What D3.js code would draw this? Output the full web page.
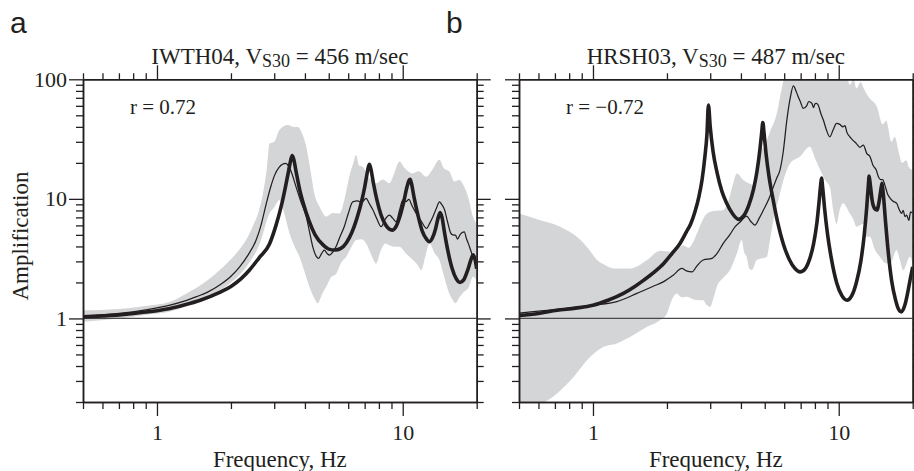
<!DOCTYPE html>
<html>
<head>
<meta charset="utf-8">
<script src="https://cdn.jsdelivr.net/npm/d3@7"></script>
<style>
  body { margin: 0; background: #fff; }
</style>
</head>
<body>
<svg id="chart" width="914" height="471"></svg>
<script>
// axis ranges and ticks
const freqDomain = [0.5, 20];
const ampDomain = [0.2, 100];
const freqMajor = [1, 10];
const freqMinor = [0.5, 0.6, 0.7, 0.8, 0.9, 2, 3, 4, 5, 6, 7, 8, 9, 20];
const ampMajor = [1, 10, 100];
const ampMinor = [0.2, 0.3, 0.4, 0.5, 0.6, 0.7, 0.8, 0.9, 2, 3, 4, 5, 6, 7, 8, 9, 20, 30, 40, 50, 60, 70, 80, 90];

// panel a: IWTH04  [frequency Hz, amplification]
const theoryA = [[0.5,1.03],[0.6,1.05],[0.7,1.07],[0.8,1.10],[0.9,1.13],[1.0,1.16],[1.13,1.21],[1.3,1.30],[1.5,1.42],[1.8,1.65],[2.0,1.85],[2.2,2.15],[2.38,2.54],[2.6,3.2],[2.87,4.2],[3.05,6.0],[3.2,8.6],[3.33,12.5],[3.43,17],[3.5,21],[3.55,23],[3.6,21.5],[3.68,17],[3.8,12.2],[3.95,9],[4.15,6.6],[4.4,5.0],[4.75,4.1],[5.0,3.8],[5.3,3.73],[5.6,3.85],[5.9,4.3],[6.2,5.2],[6.5,6.8],[6.8,9.5],[7.0,12.5],[7.15,16],[7.25,18.5],[7.32,19.5],[7.42,17.8],[7.6,13.5],[7.85,9.8],[8.15,7.4],[8.5,6.1],[8.8,5.6],[9.06,5.48],[9.4,5.9],[9.75,7.2],[10.1,9.5],[10.4,12.5],[10.6,14.2],[10.72,14.6],[10.85,13.5],[11.1,10.5],[11.5,7.5],[12.0,5.4],[12.5,4.6],[12.84,4.38],[13.2,4.7],[13.6,5.6],[13.95,7.0],[14.2,7.7],[14.45,7.0],[14.8,5.2],[15.3,3.6],[15.9,2.6],[16.5,2.15],[17.1,2.0],[17.7,2.1],[18.4,2.55],[19.0,3.15],[19.35,3.4],[19.7,3.1],[20,2.6]];
const observedA = [[0.5,1.04],[0.7,1.1],[0.9,1.18],[1.13,1.29],[1.3,1.4],[1.45,1.52],[1.6,1.65],[1.8,1.9],[2.0,2.25],[2.17,2.7],[2.35,3.4],[2.53,4.5],[2.65,6.0],[2.78,9.0],[2.9,12.5],[3.0,15.5],[3.15,18.5],[3.33,19.8],[3.45,18.5],[3.55,16],[3.68,12.6],[3.85,9.5],[4.05,7.1],[4.2,5.0],[4.3,4.0],[4.45,3.3],[4.55,3.18],[4.68,3.5],[4.8,3.73],[4.92,3.5],[5.03,3.39],[5.2,3.6],[5.35,3.98],[5.55,4.8],[5.78,5.85],[6.0,7.5],[6.26,9.45],[6.55,9.6],[6.8,9.3],[7.1,10.1],[7.3,9.2],[7.56,8.1],[7.85,6.8],[8.17,5.85],[8.5,6.8],[8.83,7.3],[9.1,6.9],[9.4,6.43],[9.7,8.0],[10.0,9.77],[10.3,9.5],[10.6,9.9],[10.9,8.8],[11.35,7.55],[11.9,6.5],[12.5,5.66],[12.9,6.3],[13.27,7.1],[13.7,8.3],[14.1,9.45],[14.4,9.0],[14.8,8.1],[15.2,6.5],[15.7,5.15],[16.0,5.0],[16.4,4.97],[16.7,4.6],[17.2,5.1],[17.8,5.3],[18.2,4.6],[18.6,4.1],[19.0,3.6],[19.3,3.28],[20,3.08]];
const bandHighA = [[0.5,1.17],[0.7,1.2],[0.9,1.27],[1.13,1.38],[1.32,1.62],[1.54,1.96],[1.8,2.54],[2.1,3.5],[2.3,4.5],[2.45,5.85],[2.6,8],[2.7,11.1],[2.8,18],[2.87,29],[3.0,30],[3.15,37.6],[3.4,41.4],[3.6,40],[3.74,40],[3.9,35],[4.05,27.3],[4.2,18],[4.37,11.1],[4.6,8.5],[4.88,7.1],[5.2,7.6],[5.53,7.55],[5.8,10],[6.06,15.3],[6.3,20],[6.46,23.3],[6.65,19],[6.87,18.6],[7.3,15],[7.8,13.5],[8.3,14.5],[8.83,13.5],[9.2,16],[9.7,20.5],[10.2,18],[10.97,16.3],[11.6,17],[12.45,15.3],[13.2,17.5],[14.1,21.2],[14.7,18],[15.5,16.9],[16.2,14],[17.0,14.4],[17.8,12.6],[18.6,9.8],[19.3,7.1],[20,6.2]];
const bandLowA = [[0.5,0.94],[0.7,1.0],[0.9,1.07],[1.13,1.14],[1.54,1.47],[1.98,1.96],[2.31,2.7],[2.62,4.24],[2.87,7.55],[3.0,8.5],[3.15,9.77],[3.3,7.5],[3.46,5.15],[3.65,3.9],[3.8,3.28],[4.0,2.4],[4.17,1.84],[4.35,1.5],[4.51,1.34],[4.7,1.6],[4.88,1.84],[5.1,2.2],[5.37,2.38],[5.6,2.9],[5.89,3.28],[6.2,4.0],[6.46,4.52],[6.8,4.6],[7.1,4.24],[7.45,3.4],[7.8,2.88],[8.1,3.6],[8.5,4.24],[9.1,4.0],[9.7,3.98],[10.3,3.5],[11.0,3.08],[11.5,2.8],[11.9,2.54],[12.4,3.4],[12.85,4.24],[13.5,3.5],[14.1,3.08],[14.6,2.4],[15.0,1.96],[15.5,1.6],[16.0,1.42],[16.4,1.34],[17.0,1.5],[17.5,1.62],[18.6,1.84],[19.3,2.23],[20,2.09]];

// panel b: HRSH03
const theoryB = [[0.5,1.06],[0.6,1.1],[0.714,1.17],[0.85,1.22],[1.0,1.29],[1.15,1.42],[1.33,1.62],[1.48,1.85],[1.61,2.09],[1.78,2.45],[1.94,2.88],[2.1,3.5],[2.26,4.24],[2.4,5.3],[2.5,6.2],[2.6,7.8],[2.7,10.5],[2.78,14.5],[2.85,22],[2.91,35],[2.95,61],[3.0,40],[3.08,25],[3.2,16.5],[3.35,11.5],[3.5,9.2],[3.7,7.5],[3.91,6.74],[4.1,7.2],[4.3,8.8],[4.5,12],[4.65,17],[4.78,26],[4.86,36],[4.91,43.4],[4.97,35],[5.06,24],[5.2,15.5],[5.4,10],[5.65,6.3],[5.95,4.2],[6.3,3.1],[6.65,2.6],[6.96,2.45],[7.3,2.6],[7.6,3.1],[7.9,4.2],[8.15,6.3],[8.32,9.5],[8.44,13],[8.51,14.9],[8.6,12.5],[8.75,8.5],[9.0,5.1],[9.35,3.1],[9.8,2.0],[10.3,1.55],[10.8,1.42],[11.3,1.55],[11.8,2.0],[12.3,3.0],[12.7,5.0],[13.0,8.5],[13.2,13],[13.3,15.5],[13.45,13],[13.7,9.5],[14.0,8.3],[14.3,8.07],[14.6,9.5],[14.85,12],[15.0,13.5],[15.15,11.5],[15.5,6.5],[15.9,3.6],[16.4,2.1],[17.0,1.45],[17.5,1.2],[18.0,1.135],[18.6,1.3],[19.2,1.75],[19.6,2.2],[20,2.7]];
const observedB = [[0.5,1.11],[0.714,1.19],[1.0,1.29],[1.25,1.38],[1.51,1.62],[1.75,1.85],[1.94,2.03],[2.12,2.3],[2.3,2.62],[2.4,2.5],[2.53,2.45],[2.65,2.75],[2.81,3.08],[3.05,3.18],[3.2,3.5],[3.39,4.24],[3.6,5.0],[3.79,5.85],[4.0,6.5],[4.22,7.17],[4.38,6.5],[4.56,6.03],[4.75,6.9],[4.94,8.07],[5.2,10],[5.42,12.6],[5.6,15],[5.77,17.5],[5.95,25],[6.15,45.6],[6.35,70],[6.54,88],[6.7,80],[6.85,71],[7.0,64],[7.17,57],[7.4,60],[7.55,65],[7.77,63],[7.9,58],[7.99,62],[8.1,63],[8.25,61],[8.45,52],[8.66,45.6],[8.9,38],[9.2,33],[9.5,38],[9.8,42.8],[10.1,42],[10.4,40],[10.6,41],[10.8,36],[11.1,33],[11.4,31],[11.8,29],[12.2,27],[12.6,28.2],[13.0,24],[13.4,22.6],[13.8,19],[14.2,17.5],[14.5,15.3],[14.8,14.5],[15.1,14.5],[15.4,13.1],[15.8,11],[16.2,10.1],[16.7,9.5],[17.2,9.2],[17.6,8.2],[18.0,7.55],[18.3,8.0],[18.6,7.1],[18.9,7.3],[19.3,6.6],[19.6,7.8],[20,7.55]];
const bandHighB = [[0.5,7.55],[0.61,6.64],[0.7,6.1],[0.78,5.49],[0.89,4.52],[0.97,3.7],[1.04,3.08],[1.12,2.8],[1.21,2.62],[1.42,2.62],[1.55,2.8],[1.66,3.08],[1.88,3.68],[2.09,3.61],[2.19,3.73],[2.33,4.1],[2.45,3.9],[2.55,4.3],[2.65,5.15],[2.78,6.5],[2.91,7.55],[3.1,7.9],[3.39,8.07],[3.55,9.5],[3.7,13],[3.85,16.3],[4.09,14.4],[4.3,13.5],[4.49,13.1],[4.65,18],[4.78,24],[5.0,28],[5.25,36.4],[5.6,52],[5.8,75],[5.96,99],[6.1,130],[10.5,130],[11.1,90],[11.5,100],[11.8,84],[12.3,95],[12.6,85],[13.3,70],[14.3,59],[15.1,42],[15.6,45],[16.4,30],[16.9,33],[17.6,24],[18.1,20],[18.8,21],[19.4,18],[20,17.5]];
const bandLowB = [[0.5,0.18],[0.6,0.19],[0.714,0.236],[0.834,0.324],[0.975,0.477],[1.1,0.578],[1.25,0.618],[1.42,0.702],[1.66,0.85],[1.88,0.97],[2.0,1.1],[2.09,1.42],[2.19,1.62],[2.3,1.5],[2.41,1.52],[2.55,1.45],[2.7,1.42],[2.81,1.42],[2.9,1.3],[3.0,1.25],[3.1,1.5],[3.19,1.84],[3.4,2.2],[3.61,2.54],[3.85,3.5],[4.03,4.52],[4.12,3.6],[4.22,3.28],[4.33,2.6],[4.43,2.54],[4.64,3.08],[5.1,3.28],[5.25,4.5],[5.42,6.64],[5.7,10],[5.96,14.4],[6.34,19.8],[6.96,22.6],[7.63,27.3],[8.0,22],[8.4,17.5],[8.8,14.4],[9.2,12.6],[9.5,8],[9.8,6.2],[10.1,8.1],[10.4,9.2],[11.1,7.55],[11.5,6.64],[11.8,5.85],[12.6,6.2],[13.0,4.82],[13.4,4.82],[14.0,3.8],[14.7,3.28],[15.5,2.9],[16.2,2.88],[17.2,3.73],[17.8,3.0],[18.3,2.54],[19.5,3.28],[20,2.88]];

const panels = [
  {letter: "a", station: "IWTH04", vs30: "456", r: "r = 0.72", left: 83, right: 476.7,
   theory: theoryA, observed: observedA, high: bandHighA, low: bandLowA, yLabels: true},
  {letter: "b", station: "HRSH03", vs30: "487", r: "r = \u22120.72", left: 519, right: 912.7,
   theory: theoryB, observed: observedB, high: bandHighB, low: bandLowB, yLabels: false}
];

const ink = "#231f20";
const serif = "'Liberation Serif', 'Times New Roman', serif";
const plotTop = 79.3, plotBottom = 402;

const svg = d3.select("#chart");
const y = d3.scaleLog().domain(ampDomain).range([plotBottom, plotTop]);

function styleAxis(g, size) {
  g.select(".domain").attr("stroke", ink).attr("stroke-width", 1.5);
  g.selectAll(".tick line").attr("stroke", ink).attr("stroke-width", 1.3);
  g.selectAll("text").attr("fill", ink).style("font-family", serif).style("font-size", size + "px");
}

panels.forEach(function (p, pi) {
  const x = d3.scaleLog().domain(freqDomain).range([p.left, p.right]);
  const g = svg.append("g");
  const clipId = "clip" + pi;

  svg.append("clipPath").attr("id", clipId)
    .append("rect")
    .attr("x", p.left).attr("y", plotTop)
    .attr("width", p.right - p.left).attr("height", plotBottom - plotTop);

  const line = d3.line()
    .x(d => x(d[0]))
    .y(d => y(d[1]))
    .curve(d3.curveMonotoneX);

  const plot = g.append("g").attr("clip-path", "url(#" + clipId + ")");

  // grey range band
  const upper = line(p.high);
  const lower = line(p.low.slice().reverse());
  plot.append("path")
    .attr("d", upper + lower.replace(/^M/, "L") + "Z")
    .attr("fill", "#d4d5d7");

  // amplification = 1 reference
  plot.append("line")
    .attr("x1", p.left).attr("x2", p.right)
    .attr("y1", y(1)).attr("y2", y(1))
    .attr("stroke", "#4a4a4a").attr("stroke-width", 1.2);

  plot.append("path")
    .attr("d", line(p.observed))
    .attr("fill", "none")
    .attr("stroke", ink)
    .attr("stroke-width", 1.25);

  plot.append("path")
    .attr("d", line(p.theory))
    .attr("fill", "none")
    .attr("stroke", ink)
    .attr("stroke-width", 3.6)
    .attr("stroke-linejoin", "round");

  // axes: major + minor on all four sides
  const bottomMajor = g.append("g").attr("transform", "translate(0," + plotBottom + ")")
    .call(d3.axisBottom(x).tickValues(freqMajor).tickSize(14).tickSizeOuter(0).tickPadding(8).tickFormat(d3.format("d")));
  styleAxis(bottomMajor, 22);
  const bottomMinor = g.append("g").attr("transform", "translate(0," + plotBottom + ")")
    .call(d3.axisBottom(x).tickValues(freqMinor).tickSize(7).tickSizeOuter(0).tickFormat(""));
  styleAxis(bottomMinor, 22);

  const topMajor = g.append("g").attr("transform", "translate(0," + plotTop + ")")
    .call(d3.axisTop(x).tickValues(freqMajor).tickSize(14).tickSizeOuter(0).tickFormat(""));
  styleAxis(topMajor, 22);
  const topMinor = g.append("g").attr("transform", "translate(0," + plotTop + ")")
    .call(d3.axisTop(x).tickValues(freqMinor).tickSize(6).tickSizeOuter(0).tickFormat(""));
  styleAxis(topMinor, 22);

  const leftMajor = g.append("g").attr("transform", "translate(" + p.left + ",0)")
    .call(d3.axisLeft(y).tickValues(ampMajor).tickSize(14).tickSizeOuter(0).tickPadding(2)
      .tickFormat(p.yLabels ? d3.format("d") : ""));
  styleAxis(leftMajor, 22);
  const leftMinor = g.append("g").attr("transform", "translate(" + p.left + ",0)")
    .call(d3.axisLeft(y).tickValues(ampMinor).tickSize(7).tickSizeOuter(0).tickFormat(""));
  styleAxis(leftMinor, 22);

  const rightMajor = g.append("g").attr("transform", "translate(" + p.right + ",0)")
    .call(d3.axisRight(y).tickValues(ampMajor).tickSize(14).tickSizeOuter(0).tickFormat(""));
  styleAxis(rightMajor, 22);
  const rightMinor = g.append("g").attr("transform", "translate(" + p.right + ",0)")
    .call(d3.axisRight(y).tickValues(ampMinor).tickSize(7).tickSizeOuter(0).tickFormat(""));
  styleAxis(rightMinor, 22);

  const cx = (p.left + p.right) / 2;

  // title with subscript
  const title = g.append("text")
    .attr("x", cx).attr("y", 64)
    .attr("text-anchor", "middle")
    .attr("fill", ink)
    .style("font-family", serif)
    .style("font-size", "23px");
  title.append("tspan").text(p.station + ", V");
  title.append("tspan").attr("dy", 3).style("font-size", "18px").text("S30");
  title.append("tspan").attr("dy", -3).text(" = " + p.vs30 + " m/sec");

  g.append("text")
    .attr("x", p.left + 47).attr("y", 114)
    .attr("fill", ink)
    .style("font-family", serif)
    .style("font-size", "21px")
    .text(p.r);

  g.append("text")
    .attr("x", cx).attr("y", 467)
    .attr("text-anchor", "middle")
    .attr("fill", ink)
    .style("font-family", serif)
    .style("font-size", "23px")
    .text("Frequency, Hz");

  g.append("text")
    .attr("x", p.left - 73).attr("y", 33)
    .attr("fill", ink)
    .style("font-family", "'Liberation Sans', Arial, sans-serif")
    .style("font-size", "30px")
    .text(p.letter);
});

svg.append("text")
  .attr("transform", "translate(28,236) rotate(-90)")
  .attr("text-anchor", "middle")
  .attr("fill", ink)
  .style("font-family", serif)
  .style("font-size", "23px")
  .text("Amplification");
</script>
</body>
</html>
